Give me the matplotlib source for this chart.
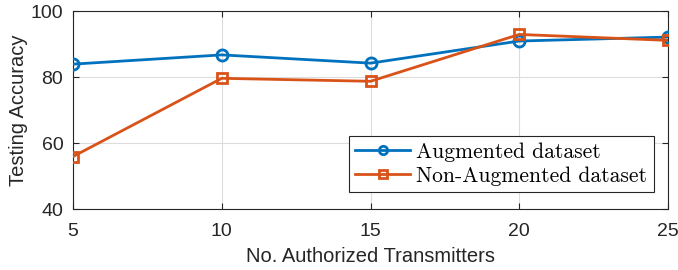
import matplotlib
matplotlib.use("Agg")
import matplotlib.pyplot as plt

x_vals = [5, 10, 15, 20, 25]
augmented = [83.9, 86.7, 84.2, 90.9, 92.1]
non_augmented = [55.9, 79.6, 78.7, 92.9, 91.1]
series_labels = ["Augmented dataset", "Non-Augmented dataset"]
x_label = "No. Authorized Transmitters"
y_label = "Testing Accuracy"
y_ticks = [40, 60, 80, 100]

plt.rcParams['font.family'] = ['Liberation Sans', 'DejaVu Sans']

fig = plt.figure(figsize=(6.78, 2.70), dpi=100)
ax = fig.add_axes([73/678, 1-209/270, (668-73)/678, (209-11)/270])

blue = '#0072BD'
orange = '#D95319'
ax.plot(x_vals, augmented, '-o', color=blue, lw=2, ms=8, mfc='none', mew=2,
        label=series_labels[0], zorder=3)
ax.plot(x_vals, non_augmented, '-s', color=orange, lw=2, ms=7, mfc='none', mew=2,
        label=series_labels[1], zorder=3)

ax.set_xlim(5, 25)
ax.set_ylim(40, 100)
ax.set_xticks(x_vals)
ax.set_yticks(y_ticks)
ax.grid(True, color='#dcdcdc', lw=0.8)
ax.set_axisbelow(True)
ax.tick_params(direction='in', top=True, right=True, labelsize=14, colors='#262626',
               length=4, width=0.8)
ax.tick_params(axis='x', pad=10)
ax.tick_params(axis='y', pad=7)
for s in ax.spines.values():
    s.set_color('#262626')
    s.set_linewidth(0.8)
ax.set_xlabel(x_label, fontsize=14.5, color='#262626', labelpad=5)
ax.set_ylabel(y_label, fontsize=14.5, color='#262626', labelpad=2)

leg = ax.legend(loc='upper left', bbox_to_anchor=(349/678, 1-136/270),
                bbox_transform=fig.transFigure, prop={'family': 'cmr10', 'size': 15.5},
                fancybox=False, framealpha=1, edgecolor='#262626', handlelength=2.55,
                borderpad=0.3, labelspacing=0.2, handletextpad=0.28, borderaxespad=0)
leg.get_frame().set_linewidth(0.8)
for h in leg.legend_handles:
    h.set_markersize(6)

fig.savefig('out.png', dpi=100)
